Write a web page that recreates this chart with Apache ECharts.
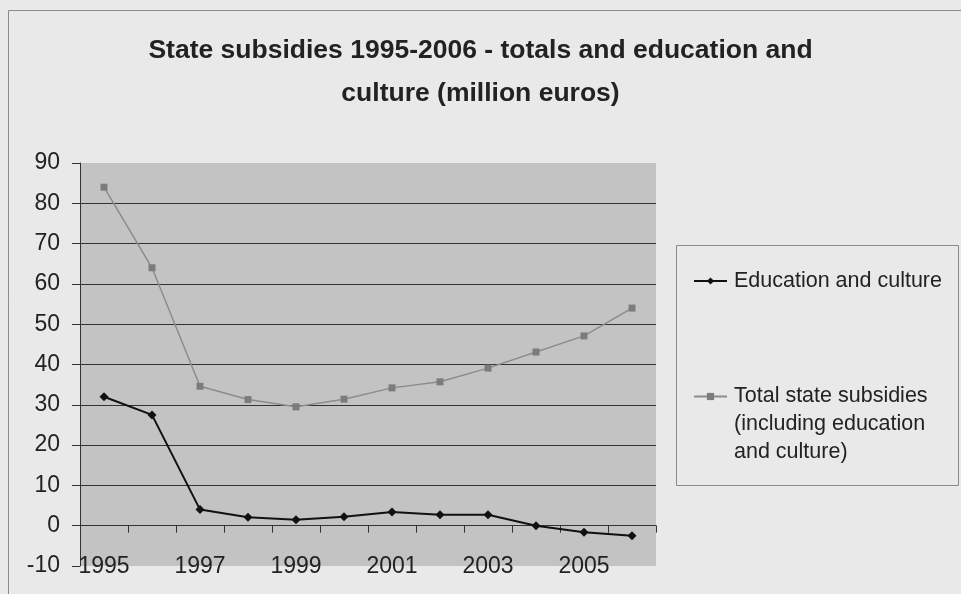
<!DOCTYPE html>
<html>
<head>
<meta charset="utf-8">
<script src="https://cdn.jsdelivr.net/npm/echarts@6/dist/echarts.min.js"></script>
<style>
  html, body { margin: 0; padding: 0; background: #e9e9e9; }
  #chart { width: 961px; height: 594px; }
</style>
</head>
<body>
<div id="chart"></div>
<script>
// Years on the category axis
const years = ['1995', '1996', '1997', '1998', '1999', '2000', '2001', '2002', '2003', '2004', '2005', '2006'];

// State subsidies, million euros
const educationCulture = [32, 27.5, 4, 2.1, 1.5, 2.2, 3.4, 2.7, 2.7, 0, -1.6, -2.5];
const totalSubsidies = [84, 64, 34.6, 31.3, 29.5, 31.4, 34.2, 35.7, 39.1, 43.1, 47.1, 54];

// Value axis ticks
const yMin = -10;
const yMax = 90;
const yStep = 10;

const titleText = 'State subsidies 1995-2006 - totals and education and\nculture (million euros)';
const eduName = 'Education and culture';
const totalName = 'Total state subsidies (including education and culture)';

const FONT = '"Liberation Sans", Arial, sans-serif';

const chart = echarts.init(document.getElementById('chart'), null, { renderer: 'canvas' });

chart.setOption({
  backgroundColor: '#e9e9e9',
  animation: false,
  title: {
    text: titleText,
    left: 'center',
    top: 24,
    textStyle: {
      fontFamily: FONT,
      fontWeight: 'bold',
      fontSize: 26.5,
      lineHeight: 43,
      color: '#222'
    }
  },
  graphic: [
    {
      // outer chart frame
      type: 'rect',
      silent: true,
      shape: { x: 8.5, y: 10.5, width: 1000, height: 700 },
      style: { fill: 'none', stroke: '#8a8a8a', lineWidth: 1 }
    },
    {
      // legend frame
      type: 'rect',
      silent: true,
      shape: { x: 676.5, y: 245.5, width: 282, height: 240 },
      style: { fill: 'none', stroke: '#8a8a8a', lineWidth: 1 }
    }
  ],
  legend: [
    {
      data: [eduName],
      orient: 'vertical',
      left: 693,
      top: 266.5,
      padding: 0,
      itemWidth: 33,
      itemHeight: 9,
      itemGap: 0,
      textStyle: { fontFamily: FONT, fontSize: 21.5, color: '#222', lineHeight: 29, padding: [0, 0, 0, 2] }
    },
    {
      data: [totalName],
      orient: 'vertical',
      left: 693,
      top: 326.5,
      padding: 0,
      itemWidth: 33,
      itemHeight: 9,
      itemGap: 0,
      formatter: function () {
        // keep the icon level with the first line of the wrapped label
        return '\n\nTotal state subsidies\n(including education\nand culture)';
      },
      textStyle: { fontFamily: FONT, fontSize: 21.5, color: '#222', lineHeight: 28, padding: [0, 0, 0, 2] }
    }
  ],
  grid: {
    left: 80,
    top: 163,
    width: 576,
    height: 403,
    show: true,
    backgroundColor: '#c3c3c3',
    borderWidth: 0,
    containLabel: false
  },
  xAxis: [
    {
      // axis line running along zero, with the category ticks
      type: 'category',
      data: years,
      boundaryGap: true,
      axisLine: { show: true, onZero: true, lineStyle: { color: '#333', width: 1 } },
      axisTick: { show: true, length: 7, lineStyle: { color: '#333' } },
      axisLabel: { show: false },
      splitLine: { show: false }
    },
    {
      // year labels along the bottom edge
      type: 'category',
      data: years,
      position: 'bottom',
      boundaryGap: true,
      axisLine: { show: false, onZero: false },
      axisTick: { show: false },
      axisLabel: {
        show: true,
        interval: 1,
        margin: 1,
        verticalAlign: 'middle',
        fontFamily: FONT,
        fontSize: 23,
        color: '#222'
      },
      splitLine: { show: false }
    }
  ],
  yAxis: {
    type: 'value',
    min: yMin,
    max: yMax,
    interval: yStep,
    axisLine: { show: true, lineStyle: { color: '#333', width: 1 } },
    axisTick: { show: true, length: 8, lineStyle: { color: '#333' } },
    axisLabel: { fontFamily: FONT, fontSize: 23, color: '#222', margin: 20 },
    splitLine: { show: true, showMinLine: false, showMaxLine: false, lineStyle: { color: '#333', width: 1 } }
  },
  series: [
    {
      name: eduName,
      type: 'line',
      xAxisIndex: 0,
      data: educationCulture,
      symbol: 'diamond',
      symbolSize: 9,
      itemStyle: { color: '#111' },
      lineStyle: { color: '#111', width: 2 },
      z: 3
    },
    {
      name: totalName,
      type: 'line',
      xAxisIndex: 0,
      data: totalSubsidies,
      symbol: 'rect',
      symbolSize: 7,
      itemStyle: { color: '#7c7c7c' },
      lineStyle: { color: '#8c8c8c', width: 1.5 },
      z: 2
    }
  ]
});
</script>
</body>
</html>
